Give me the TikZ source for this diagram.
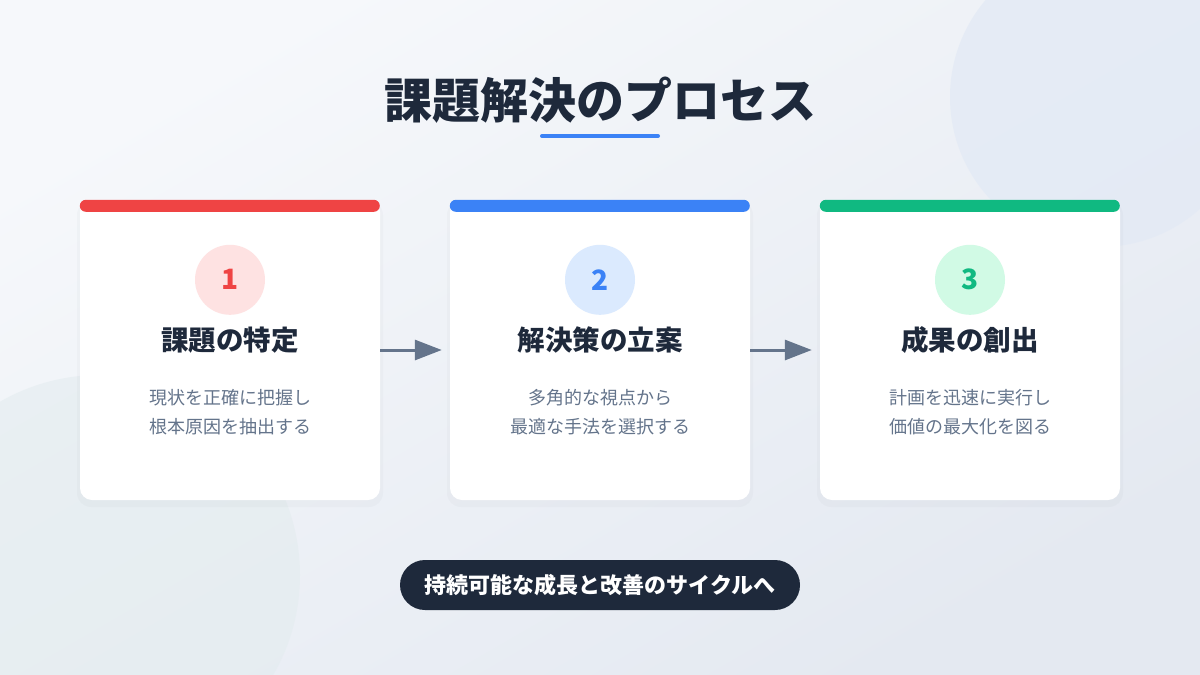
\documentclass[tikz,border=0pt]{standalone}
\usepackage{fontspec}
\setmainfont{Noto Sans CJK JP}
\usetikzlibrary{positioning,calc,arrows.meta}
\definecolor{darkslate}{HTML}{1E293B}
\definecolor{slategray}{HTML}{64748B}
\definecolor{redA}{HTML}{EF4444}
\definecolor{redL}{HTML}{FEE2E2}
\definecolor{blueA}{HTML}{3B82F6}
\definecolor{blueL}{HTML}{DBEAFE}
\definecolor{greenA}{HTML}{10B981}
\definecolor{greenL}{HTML}{D1FAE5}
\definecolor{bgA}{HTML}{F6F8FB}
\definecolor{bgB}{HTML}{E4E9F1}
\definecolor{blobA}{HTML}{E3EAF5}
\definecolor{blobB}{HTML}{E3ECEF}

\begin{document}
\begin{tikzpicture}
  [x=1pt,y=-1pt,node distance=12pt,
   cardN/.style={fill=white,rounded corners=12pt,minimum width=300pt,minimum height=300pt,inner sep=0pt},
   shadowN/.style={fill=darkslate,opacity=0.025,rounded corners=14pt,minimum width=306pt,minimum height=306pt,inner sep=0pt},
   numN/.style={circle,minimum size=70pt,inner sep=0pt,font=\bfseries\fontsize{28}{28}\selectfont},
   headN/.style={font=\bfseries\fontsize{27.5}{27.5}\selectfont,text=darkslate,inner sep=0pt},
   textN/.style={font=\fontsize{18}{29}\selectfont,text=slategray,align=center,inner sep=0pt},
   stepArrow/.style={-{Triangle[length=27pt,width=20pt]},line width=3pt,slategray},
  ]

 % background
 \useasboundingbox (0,0) rectangle (1200,675);
 \shade[shading=axis,top color=bgA,bottom color=bgB,shading angle=30] (0,0) rectangle (1200,675);
 \fill[blobA,opacity=0.8] (1100,97) circle[radius=150pt];
 \fill[blobB,opacity=0.6] (100,575) circle[radius=200pt];

 % title
 \node[font=\bfseries\fontsize{48}{48}\selectfont,text=darkslate] (title) at (600,100) {課題解決のプロセス};
 \draw[blueA,line width=4pt,line cap=round] (542,136) -- (658,136);

 % cards
 \node[shadowN] at (230,354) {};
 \node[shadowN] at (600,354) {};
 \node[shadowN] at (970,354) {};
 \node[cardN] (card1) at (230,350) {};
 \node[cardN] (card2) at (600,350) {};
 \node[cardN] (card3) at (970,350) {};
 \fill[redA,rounded corners=6pt]   (card1.north west) rectangle ++(300,12);
 \fill[blueA,rounded corners=6pt]  (card2.north west) rectangle ++(300,12);
 \fill[greenA,rounded corners=6pt] (card3.north west) rectangle ++(300,12);

 \node[numN,fill=redL,text=redA]     (num1) at ($(card1.north)+(0,80)$) {1};
 \node[numN,fill=blueL,text=blueA]   (num2) at ($(card2.north)+(0,80)$) {2};
 \node[numN,fill=greenL,text=greenA] (num3) at ($(card3.north)+(0,80)$) {3};

 \node[headN] (head1) at ($(card1.north)+(0,140)$) {課題の特定};
 \node[headN] (head2) at ($(card2.north)+(0,140)$) {解決策の立案};
 \node[headN] (head3) at ($(card3.north)+(0,140)$) {成果の創出};

 \node[textN] (desc1) at ($(card1.north)+(0,212)$) {現状を正確に把握し\\根本原因を抽出する};
 \node[textN] (desc2) at ($(card2.north)+(0,212)$) {多角的な視点から\\最適な手法を選択する};
 \node[textN] (desc3) at ($(card3.north)+(0,212)$) {計画を迅速に実行し\\価値の最大化を図る};

 \draw[stepArrow] (card1.east) -- ($(card2.west)+(-8,0)$);
 \draw[stepArrow] (card2.east) -- ($(card3.west)+(-8,0)$);

 % closing pill
 \node[fill=darkslate,rounded corners=25pt,minimum width=400pt,minimum height=50pt,text=white,
       font=\bfseries\fontsize{22}{22}\selectfont] (cycle) at (600,585) {持続可能な成長と改善のサイクルへ};

\end{tikzpicture}
\end{document}
